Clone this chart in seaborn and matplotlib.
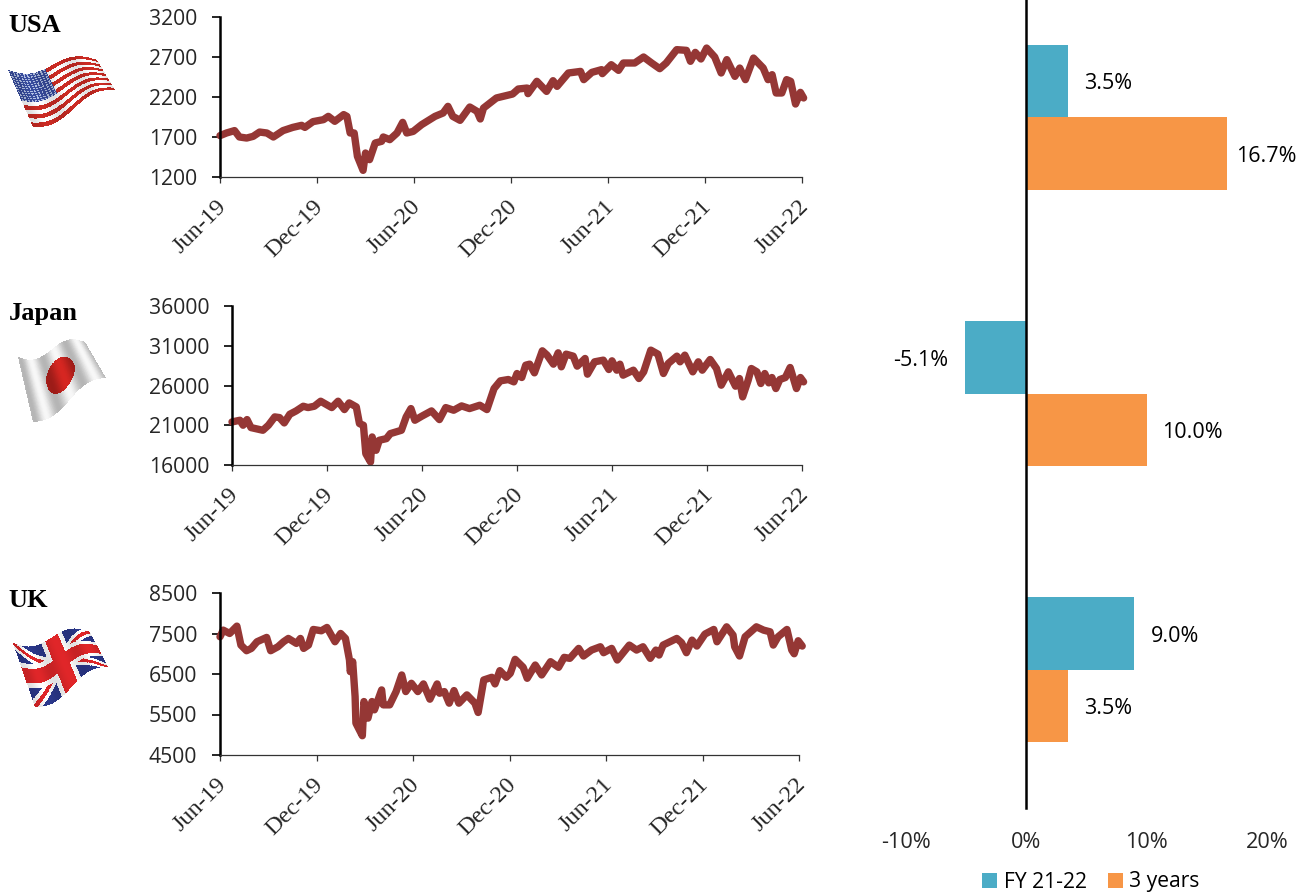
import numpy as np
import pandas as pd
import seaborn as sns
import matplotlib.pyplot as plt
from matplotlib.transforms import ScaledTranslation

# months since Jun-19, index level
usa_t = [0, .4, .9, 1.2, 1.65, 2.05, 2.45, 2.9, 3.3, 3.9, 4.5, 5.05, 5.25, 5.75, 6.4, 6.7, 7.1, 7.65, 7.85, 8.05, 8.3, 8.5, 8.85, 9.0, 9.25, 9.6, 10.0, 10.1, 10.5, 10.95, 11.3, 11.55, 11.95, 12.47, 13.3, 13.8, 14.1, 14.4, 14.85, 15.45, 15.9, 16.1, 16.3, 17.1, 18.1, 18.45, 19.0, 19.05, 19.6, 20.2, 20.6, 20.85, 21.55, 22.3, 22.5, 23.0, 23.6, 23.65, 24.2, 24.65, 24.95, 25.65, 26.2, 26.7, 27.2, 27.6, 28.25, 28.85, 29.1, 29.4, 29.75, 30.1, 30.6, 31.0, 31.35, 31.85, 32.15, 32.5, 33.0, 33.6, 33.9, 34.15, 34.4, 34.75, 35.05, 35.3, 35.6, 35.9, 36.1]
usa_v = [1717, 1750, 1780, 1700, 1687, 1708, 1762, 1750, 1700, 1780, 1820, 1846, 1820, 1892, 1917, 1958, 1896, 1980, 1958, 1750, 1750, 1458, 1283, 1500, 1417, 1625, 1646, 1700, 1667, 1750, 1883, 1750, 1770, 1854, 1958, 2000, 2083, 1958, 1908, 2075, 2020, 1925, 2062, 2188, 2237, 2300, 2312, 2242, 2396, 2270, 2404, 2333, 2500, 2520, 2417, 2508, 2542, 2492, 2604, 2533, 2625, 2625, 2700, 2625, 2554, 2625, 2792, 2783, 2646, 2758, 2675, 2812, 2700, 2500, 2667, 2458, 2562, 2417, 2687, 2562, 2417, 2479, 2250, 2250, 2417, 2396, 2112, 2258, 2188]

japan_t = [0, .5, .7, .95, 1.2, 1.95, 2.3, 2.7, 3.0, 3.3, 3.65, 4.05, 4.5, 4.8, 5.2, 5.6, 6.3, 6.7, 7.1, 7.4, 7.85, 8.05, 8.3, 8.45, 8.75, 8.85, 9.1, 9.3, 9.75, 10.0, 10.7, 11.0, 11.3, 11.55, 11.98, 12.6, 13.1, 13.5, 14.0, 14.5, 15.0, 15.65, 16.1, 16.55, 16.95, 17.45, 17.8, 18.0, 18.3, 18.55, 18.8, 19.1, 19.6, 19.9, 20.3, 20.6, 20.8, 21.1, 21.55, 21.8, 22.3, 22.45, 22.9, 23.45, 23.8, 24.0, 24.3, 24.5, 24.7, 25.35, 25.7, 26.0, 26.45, 26.9, 27.25, 27.55, 28.1, 28.3, 28.6, 29.1, 29.45, 29.7, 30.2, 30.6, 30.9, 31.35, 31.8, 32.05, 32.25, 32.6, 32.8, 33.15, 33.4, 33.65, 33.9, 34.1, 34.35, 34.6, 34.95, 35.25, 35.65, 35.9, 36.1]
japan_v = [21418, 21628, 21000, 21712, 20704, 20368, 21000, 22048, 21964, 21292, 22384, 22804, 23392, 23224, 23392, 24022, 23224, 24022, 22972, 23812, 23308, 21208, 21000, 17428, 16378, 19528, 17848, 19108, 19318, 19948, 20368, 22048, 23098, 21628, 22132, 22804, 21712, 23224, 22888, 23434, 23098, 23518, 22972, 25618, 26584, 26752, 26458, 27508, 27004, 28558, 28684, 27592, 30364, 29818, 28684, 30112, 28348, 29944, 29692, 28432, 29398, 27424, 28978, 29188, 28012, 29104, 27928, 28684, 27298, 27928, 26878, 27718, 30448, 29944, 27508, 28768, 29692, 28978, 29818, 27718, 28978, 27928, 29272, 28138, 26038, 27718, 25912, 26878, 24568, 26668, 28138, 27718, 26248, 27508, 26332, 27004, 25618, 26752, 27004, 28264, 25618, 27004, 26458]

uk_t = [0, .2, .6, 1.05, 1.3, 1.65, 1.95, 2.3, 2.9, 3.15, 3.6, 3.95, 4.25, 4.75, 5.0, 5.2, 5.5, 5.8, 6.3, 6.65, 7.15, 7.5, 7.8, 8.05, 8.1, 8.25, 8.4, 8.45, 8.85, 8.95, 9.2, 9.45, 9.6, 10.05, 10.15, 10.55, 10.95, 11.3, 11.55, 11.9, 12.3, 12.65, 13.05, 13.5, 13.65, 13.95, 14.25, 14.55, 14.85, 15.35, 15.85, 16.05, 16.4, 16.9, 17.1, 17.4, 17.8, 18.05, 18.35, 18.85, 19.1, 19.6, 20.0, 20.55, 21.05, 21.4, 21.75, 22.3, 22.6, 23.1, 23.65, 23.85, 24.35, 24.7, 25.45, 25.9, 26.3, 26.75, 27.1, 27.3, 27.55, 28.4, 28.7, 29.0, 29.35, 29.65, 30.15, 30.7, 30.9, 31.5, 31.9, 32.0, 32.3, 32.65, 33.35, 33.8, 34.2, 34.4, 34.7, 35.25, 35.55, 35.7, 35.95, 36.2]
uk_v = [7419, 7583, 7501, 7682, 7214, 7075, 7132, 7296, 7403, 7075, 7173, 7296, 7378, 7255, 7378, 7132, 7214, 7600, 7567, 7649, 7296, 7501, 7378, 6845, 6558, 6804, 5943, 5287, 4976, 5820, 5410, 5820, 5615, 6107, 5738, 5738, 6066, 6476, 6066, 6271, 6066, 6255, 5878, 6255, 6025, 6066, 5779, 6091, 5779, 5984, 5779, 5550, 6353, 6419, 6255, 6583, 6419, 6517, 6862, 6665, 6394, 6722, 6476, 6804, 6665, 6911, 6886, 7132, 6944, 7091, 7173, 7026, 7132, 6845, 7214, 7091, 7173, 6886, 7091, 6968, 7214, 7378, 7272, 7026, 7337, 7190, 7485, 7600, 7296, 7665, 7460, 7173, 6944, 7419, 7665, 7583, 7542, 7214, 7419, 7600, 7091, 7000, 7321, 7190]

month_ticks = [0, 6, 12, 18, 24, 30, 36]
month_labels = ["Jun-19", "Dec-19", "Jun-20", "Dec-20", "Jun-21", "Dec-21", "Jun-22"]
usa_ticks = [1200, 1700, 2200, 2700, 3200]
japan_ticks = [16000, 21000, 26000, 31000, 36000]
uk_ticks = [4500, 5500, 6500, 7500, 8500]

countries = ["USA", "Japan", "UK"]
fy_2122 = [3.5, -5.1, 9.0]
three_years = [16.7, 10.0, 3.5]
pct_ticks = [-10, 0, 10, 20]

W, H = 1308, 894
LINE = "#953735"
BLUE = "#4BACC6"
ORANGE = "#F79646"
SANS = "Open Sans"
SERIF = "Liberation Serif"

sns.set_theme(style="white")
plt.rcParams["font.family"] = [SANS, "DejaVu Sans"]
plt.rcParams["text.color"] = "black"

fig = plt.figure(figsize=(W / 100, H / 100), dpi=100, facecolor="white")


def px_axes(left, right, top, bottom):
    return fig.add_axes([left / W, 1 - bottom / H, (right - left) / W, (bottom - top) / H])


# flags and country names sit on a full figure overlay in pixel coords
over = fig.add_axes([0, 0, 1, 1], zorder=0)
over.set_xlim(0, W)
over.set_ylim(H, 0)
over.axis("off")


def usa_flag(u, v):
    img = np.ones(u.shape + (3,))
    red = np.floor(v * 13).astype(int) % 2 == 0
    img[red] = [0.80, 0.17, 0.14]
    canton = (u < 0.42) & (v < 7 / 13)
    img[canton] = [0.22, 0.30, 0.62]
    stars = canton & (((u * 26) % 1 - .5) ** 2 + ((v * 22) % 1 - .5) ** 2 < .1)
    img[stars] = [.7, .76, .9]
    return img


def japan_flag(u, v):
    img = np.ones(u.shape + (3,)) * 0.97
    img[((u - .5) * 1.45) ** 2 + (v - .5) ** 2 < .078] = [0.84, 0.15, 0.13]
    return img


def uk_flag(u, v):
    img = np.ones(u.shape + (3,))
    img[:] = [0.17, 0.22, 0.55]
    d1 = np.abs(v - u)
    d2 = np.abs(v - (1 - u))
    img[(d1 < .11) | (d2 < .11)] = [1, 1, 1]
    img[(d1 < .04) | (d2 < .04)] = [0.88, 0.15, 0.16]
    img[(np.abs(u - .5) < .13) | (np.abs(v - .5) < .2)] = [1, 1, 1]
    img[(np.abs(u - .5) < .08) | (np.abs(v - .5) < .12)] = [0.88, 0.15, 0.16]
    return img


def draw_flag(painter, tl, tr, br, bl, grey=0.0):
    nu, nv = 220, 150
    ue, ve = np.meshgrid(np.linspace(0, 1, nu + 1), np.linspace(0, 1, nv + 1))
    x = (1 - ue) * (1 - ve) * tl[0] + ue * (1 - ve) * tr[0] + ue * ve * br[0] + (1 - ue) * ve * bl[0]
    y = (1 - ue) * (1 - ve) * tl[1] + ue * (1 - ve) * tr[1] + ue * ve * br[1] + (1 - ue) * ve * bl[1]
    y = y + 6 * np.sin(ue * 2 * np.pi)
    uc = (ue[:-1, :-1] + ue[1:, 1:]) / 2
    vc = (ve[:-1, :-1] + ve[1:, 1:]) / 2
    img = painter(uc, vc)
    # soft folds
    shade = 1 - (0.12 + grey) * (0.5 + 0.5 * np.sin(uc * 3 * 2 * np.pi + 1))[..., None]
    over.pcolormesh(x, y, np.clip(img * shade, 0, 1), shading="flat", antialiased=False, linewidth=0, rasterized=True)


draw_flag(usa_flag, (8, 70), (97, 60), (115, 90), (33, 127))
draw_flag(japan_flag, (18, 357), (85, 342), (106, 378), (33, 422), grey=0.15)
draw_flag(uk_flag, (13, 643), (90, 632), (108, 667), (35, 707))

for name, base in zip(countries, [32, 320, 607]):
    over.text(8.5, base, name, family=SERIF, weight="bold", fontsize=19, ha="left", va="baseline")

# index panels
panels = [
    (usa_t, usa_v, usa_ticks, (220, 802, 17, 177)),
    (japan_t, japan_v, japan_ticks, (232, 802, 306, 465)),
    (uk_t, uk_v, uk_ticks, (220, 799, 593, 755)),
]
nudge = ScaledTranslation(3 / 100, -1 / 100, fig.dpi_scale_trans)
for t, v, yticks, box in panels:
    ax = px_axes(*box)
    ax.patch.set_alpha(0)
    df = pd.DataFrame({"month": t, "index": v})
    sns.lineplot(data=df, x="month", y="index", color=LINE, linewidth=5.3, estimator=None,
                 solid_joinstyle="round", solid_capstyle="round", clip_on=False, ax=ax)
    ax.set_xlim(month_ticks[0], month_ticks[-1])
    ax.set_ylim(yticks[0], yticks[-1])
    ax.set_xlabel("")
    ax.set_ylabel("")
    ax.set_yticks(yticks)
    ax.set_xticks(month_ticks)
    ax.set_xticklabels(month_labels, rotation=45, ha="right", va="center", rotation_mode="anchor",
                       family=SERIF, fontsize=17.5)
    ax.tick_params(axis="y", length=5.8, width=1.2, color="black", pad=10.5, labelsize=15.2, left=True)
    ax.tick_params(axis="x", length=4.5, width=0.9, color="#333333", pad=14, bottom=True)
    for lab in ax.get_xticklabels():
        lab.set_transform(lab.get_transform() + nudge)
    sns.despine(ax=ax)
    ax.spines["left"].set_linewidth(1.8)
    ax.spines["left"].set_color("black")
    ax.spines["bottom"].set_linewidth(0.9)
    ax.spines["bottom"].set_color("#333333")

# return bars
bars = pd.DataFrame({
    "country": countries * 2,
    "ret": fy_2122 + three_years,
    "period": ["FY 21-22"] * 3 + ["3 years"] * 3,
})
bx = px_axes(905.5, 1267, 0, 808)
bx.patch.set_alpha(0)
sns.barplot(data=bars, y="country", x="ret", hue="period", orient="h", width=0.525, gap=0, saturation=1,
            palette={"FY 21-22": BLUE, "3 years": ORANGE}, linewidth=0, ax=bx)
bx.set_xlim(pct_ticks[0], pct_ticks[-1])
bx.set_ylim(2.5, -0.425)
bx.set_xlabel("")
bx.set_ylabel("")
bx.set_yticks([])
bx.set_xticks(pct_ticks)
bx.set_xticklabels([f"{p}%" for p in pct_ticks])
bx.tick_params(axis="x", length=0, pad=17, labelsize=15.6)
for s in ["top", "right", "bottom"]:
    bx.spines[s].set_visible(False)
bx.spines["left"].set_position(("data", 0))
bx.spines["left"].set_color("black")
bx.spines["left"].set_linewidth(1.8)
bx.spines["left"].set_zorder(5)

for cont in bx.containers:
    for p in cont:
        val = p.get_width()
        pad = 6.5 if val > 15 else 11.5
        bx.annotate(f"{val:.1f}%", (val, p.get_y() + p.get_height() / 2),
                    xytext=(pad if val > 0 else -pad, -2), textcoords="offset points",
                    ha="left" if val > 0 else "right", va="center", fontsize=15.5, clip_on=False)

handles, labels = bx.get_legend_handles_labels()
bx.legend(handles, labels, ncol=2, loc="center", bbox_to_anchor=(1091 / W, 1 - 882 / H),
          bbox_transform=fig.transFigure, frameon=False, fontsize=15.2, handlelength=0.72, handleheight=0.72,
          handletextpad=0.3, columnspacing=1.0, borderpad=0, borderaxespad=0)

fig.savefig("out.png", dpi=100, facecolor="white")
